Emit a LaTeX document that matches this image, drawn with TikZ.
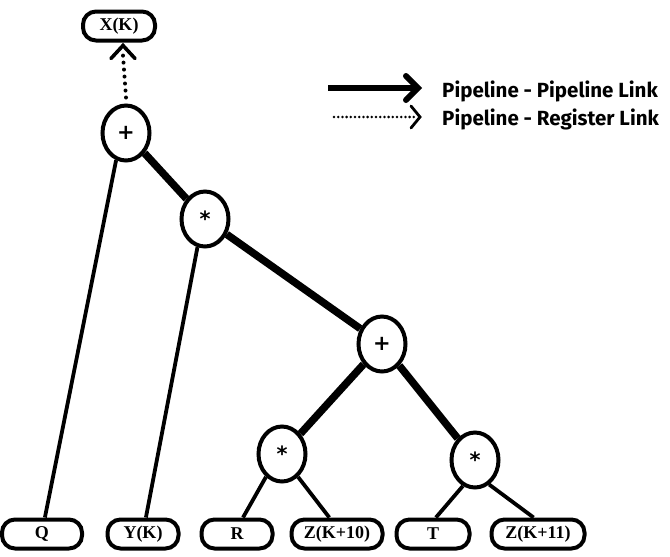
\documentclass[tikz,border=0pt]{standalone}
\usepackage{fontspec}
\setmainfont{Liberation Serif}
\newfontfamily\legendfont{Fira Sans}
\newfontfamily\opfont{DejaVu Sans}
\usetikzlibrary{arrows.meta,shapes.geometric,calc}
\begin{document}
\begin{tikzpicture}[x=1pt,y=-1pt,
  opnode/.style={draw,line width=4pt,ellipse,minimum width=47pt,minimum height=55pt,inner sep=0pt,font=\opfont\bfseries\fontsize{21}{21}\selectfont},
  regnode/.style={draw,line width=4pt,rounded corners=13pt,minimum height=29pt,inner sep=0pt,font=\bfseries\fontsize{18}{18}\selectfont},
  pipe/.style={line width=7.5pt},
  reg/.style={line width=3.8pt},
  dotlink/.style={line width=4pt,line cap=round,dash pattern=on 0pt off 7pt},
  legend/.style={anchor=west,inner sep=0pt,font=\legendfont\bfseries\fontsize{20.5}{20.5}\selectfont}
]
\useasboundingbox (0,0) rectangle (670,557);

% operator nodes
\node[opnode] (p1) at (126,133) {+};
\node[opnode] (m1) at (205,219) {*};
\node[opnode] (p2) at (382,344) {+};
\node[opnode] (m2) at (282,454) {*};
\node[opnode] (m3) at (475,460) {*};

% register nodes
\node[regnode,minimum width=72pt] (x) at (119,26) {X(K)};
\node[regnode,minimum width=80pt] (q) at (42,534) {Q};
\node[regnode,minimum width=71pt] (y) at (143,534) {Y(K)};
\node[regnode,minimum width=71pt] (r) at (237,534) {R};
\node[regnode,minimum width=91pt] (z10) at (337,534) {Z(K+10)};
\node[regnode,minimum width=73pt] (t) at (433,534) {T};
\node[regnode,minimum width=93pt] (z11) at (538,534) {Z(K+11)};

% pipeline-pipeline links
\draw[pipe] (p1) -- (m1);
\draw[pipe] (m1) -- (p2);
\draw[pipe] (p2) -- (m2);
\draw[pipe] (p2) -- (m3);

% register operands
\draw[reg] (p1.250) -- (q.80);
\draw[reg] (m1.255) -- (y.80);
\draw[reg] (m2.235) -- (r.70);
\draw[reg] (m2.305) -- (z10.115);
\draw[reg] (m3.245) -- (t.80);
\draw[reg] (m3.300) -- (z11.105);

% result to register: dotted link with an open V tip under X(K)
\coordinate (xt) at ($(x.south)+(4,3)$);
\draw[dotlink] ($(p1.north)+(0,-6)$) -- ($(xt)+(0,10)$);
\draw[line width=3.6pt,line cap=round] ($(xt)+(-12,13)$) -- (xt) -- ($(xt)+(12,13)$);

% legend
\coordinate (la1) at (328,88);
\coordinate (la2) at (418,88);
\coordinate (lb1) at (334,117);
\coordinate (lb2) at (420,117);
\draw[line width=6.5pt] (la1) -- (la2);
\draw[line width=6pt,line cap=round] ($(la2)+(-12,-12)$) -- (la2) -- ($(la2)+(-12,12)$);
\draw[line width=2.8pt,line cap=round,dash pattern=on 0pt off 4.2pt] (lb1) -- ($(lb2)+(-6,0)$);
\draw[line width=2.8pt,line cap=round] ($(lb2)+(-9,-11)$) -- (lb2) -- ($(lb2)+(-9,11)$);
\node[legend] (l1) at (442,91) {Pipeline - Pipeline Link};
\node[legend] (l2) at (442,119) {Pipeline - Register Link};
\end{tikzpicture}
\end{document}
